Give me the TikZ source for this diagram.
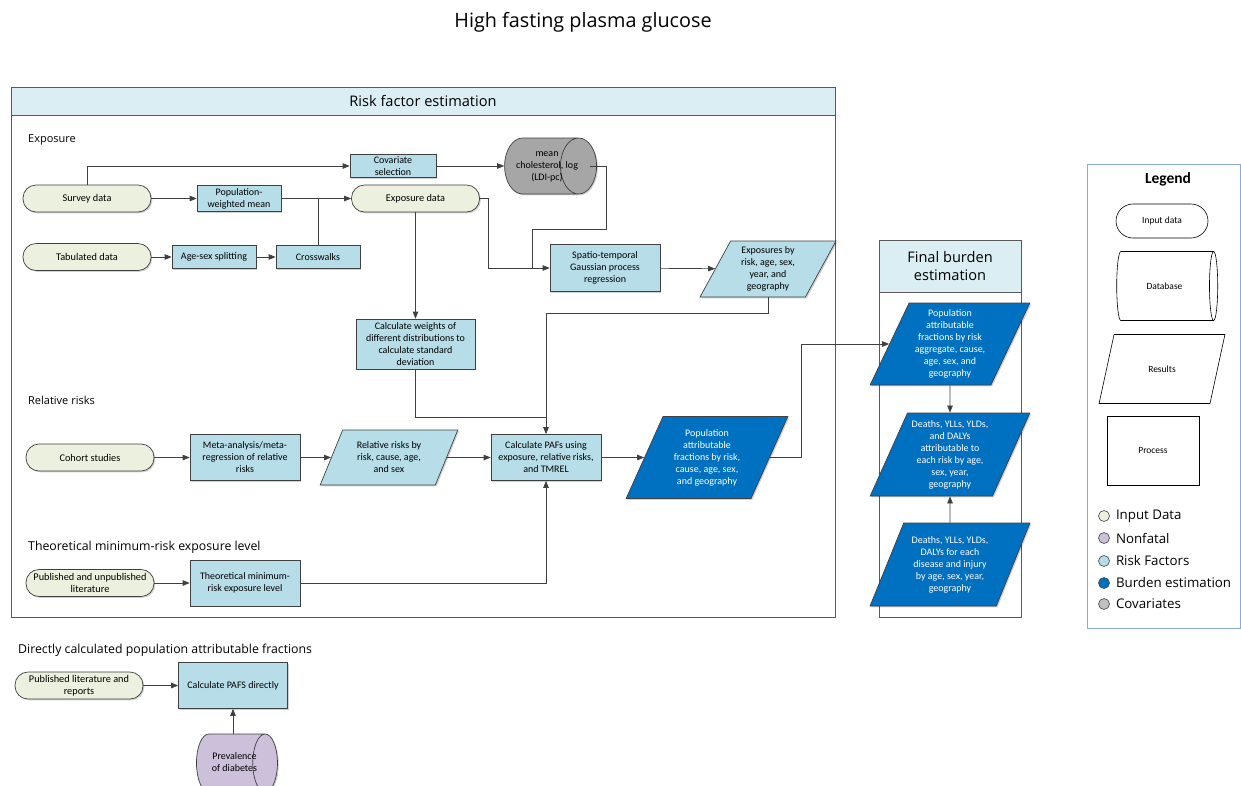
\documentclass[tikz,border=0pt]{standalone}
\usepackage{fontspec}
\setmainfont{Carlito}
\newfontfamily\headfont{Open Sans}
\usepackage{tikz}
\usetikzlibrary{arrows.meta,shapes.geometric,shadows,positioning,calc}

\definecolor{inputgreen}{HTML}{EBF1DE}
\definecolor{riskblue}{HTML}{B7DEE8}
\definecolor{burdenblue}{HTML}{0070C0}
\definecolor{covgray}{HTML}{A6A6A6}
\definecolor{nonfatal}{HTML}{CCC0DA}
\definecolor{headblue}{HTML}{DAEEF3}
\definecolor{linegray}{HTML}{404040}
\definecolor{framegray}{HTML}{595959}
\definecolor{legendblue}{HTML}{8EAADB}

\newcommand{\dbtext}[2]{\makebox[30pt]{\hspace{#1}\begin{tabular}{@{}c@{}}#2\end{tabular}}}

\tikzset{
  shadowed/.style={drop shadow={shadow xshift=1.3pt, shadow yshift=-1.3pt, fill=black, opacity=0.18}},
  base/.style={draw=linegray, line width=0.7pt, align=center, inner sep=1pt, shadowed,
    font=\fontsize{10}{12}\selectfont},
  inputbox/.style={base, fill=inputgreen, rounded corners=13pt,
    minimum width=128pt, minimum height=27pt, font=\fontsize{10.3}{12}\selectfont},
  procbox/.style={base, fill=riskblue},
  resultbox/.style={base, fill=riskblue, trapezium, trapezium left angle=64,
    trapezium right angle=116, trapezium stretches=true},
  burdenbox/.style={resultbox, fill=burdenblue, text=white},
  dbbox/.style={base, cylinder, shape border rotate=0, aspect=0.95},
  legendshape/.style={draw=black, line width=0.6pt, fill=white, align=center,
    inner sep=1pt, font=\fontsize{9.5}{11}\selectfont},
  legdot/.style={circle, draw=linegray, line width=0.6pt, minimum size=11pt, inner sep=0pt},
  legtext/.style={font=\headfont\fontsize{13.3}{15}\selectfont, anchor=west, inner sep=0pt},
  sechead/.style={font=\headfont\fontsize{11}{13}\selectfont, anchor=west, inner sep=0pt},
  bighead/.style={font=\headfont\fontsize{12.3}{14}\selectfont, anchor=west, inner sep=0pt},
  headtext/.style={font=\headfont\fontsize{14.6}{18}\selectfont, align=center},
  frame/.style={draw=framegray, line width=0.8pt},
  line/.style={draw=linegray, line width=0.7pt},
  arr/.style={line, -{Triangle[length=7pt,width=5.5pt]}}
}

\begin{document}
\begin{tikzpicture}[x=1pt,y=1pt]
\useasboundingbox (0,0) rectangle (1241,-785);
\node[font=\headfont\fontsize{19.8}{22}\selectfont] (title) at (583,-22) {High fasting plasma glucose};

% frames
\draw[frame, fill=white] (11,-87) rectangle (835,-617);
\draw[frame, fill=headblue] (11,-87) rectangle (835,-115);
\node[headtext] (rfe) at (423,-101) {Risk factor estimation};
\draw[frame, fill=white] (879,-240) rectangle (1021,-617);
\draw[frame, fill=headblue] (879,-240) rectangle (1021,-292);
\node[headtext] (fbe) at (950,-266) {Final burden\\estimation};
\draw[draw=legendblue, line width=0.8pt] (1087,-164) rectangle (1240.5,-628);

\node[sechead] (hexp) at (28,-140) {Exposure};
\node[sechead] (hrr) at (28,-400) {Relative risks};
\node[bighead] (htm) at (28,-547) {Theoretical minimum-risk exposure level};
\node[bighead] (hdir) at (18,-650) {Directly calculated population attributable fractions};

% exposure
\node[inputbox] (survey) at (87,-198.5) {Survey data};
\node[inputbox] (tab) at (87,-257) {Tabulated data};
\node[procbox, minimum width=84pt, minimum height=26pt] (popmean) at (239,-198.5) {Population-\\weighted mean};
\node[procbox, minimum width=84pt, minimum height=23pt] (agesex) at (214,-257) {Age-sex splitting};
\node[procbox, minimum width=84pt, minimum height=23pt] (cross) at (318,-257) {Crosswalks};
\node[procbox, minimum width=86pt, minimum height=23pt] (covsel) at (393,-166) {Covariate\\selection};
\node[inputbox] (expdata) at (415.5,-198.5) {Exposure data};
\node[dbbox, fill=covgray, minimum height=92pt, minimum width=56pt] (chol) at (539,-166) {\dbtext{16pt}{mean\\cholesterol, log\\(LDI-pc)}};
\node[procbox, minimum width=110pt, minimum height=47pt] (spatio) at (605,-268) {Spatio-temporal\\Gaussian process\\regression};
\node[resultbox, minimum width=136pt, minimum height=56pt] (expby) at (768,-269) {Exposures by\\risk, age, sex,\\year, and\\geography};
\node[procbox, minimum width=119pt, minimum height=50pt] (calcw) at (415.5,-344) {Calculate weights of\\different distributions to\\calculate standard\\deviation};

% relative risks
\node[inputbox] (cohort) at (90,-457.5) {Cohort studies};
\node[procbox, minimum width=110pt, minimum height=46pt] (meta) at (245,-457.5) {Meta-analysis/meta-\\regression of relative\\risks};
\node[resultbox, minimum width=138pt, minimum height=55pt] (relrisk) at (389,-457.5) {Relative risks by\\risk, cause, age,\\and sex};
\node[procbox, minimum width=110pt, minimum height=46pt] (calcpaf) at (546,-457.5) {Calculate PAFs using\\exposure, relative risks,\\and TMREL};
\node[burdenbox, minimum width=162pt, minimum height=82pt] (pafres) at (707,-457.5) {Population\\attributable\\fractions by risk,\\cause, age, sex,\\and geography};

% tmrel
\node[inputbox] (pubunpub) at (90,-583) {Published and unpublished\\literature};
\node[procbox, minimum width=110pt, minimum height=46pt] (tmrel) at (245,-583) {Theoretical minimum-\\risk exposure level};

% final burden
\node[burdenbox, minimum width=160pt, minimum height=82pt] (fpaf) at (950,-344) {Population\\attributable\\fractions by risk\\aggregate, cause,\\age, sex, and\\geography};
\node[burdenbox, minimum width=160pt, minimum height=83pt] (fdeath) at (950,-454.5) {Deaths, YLLs, YLDs,\\and DALYs\\attributable to\\each risk by age,\\sex, year,\\geography};
\node[burdenbox, minimum width=160pt, minimum height=83pt] (fdis) at (950,-564.5) {Deaths, YLLs, YLDs,\\DALYs for each\\disease and injury\\by age, sex, year,\\geography};

% direct pafs
\node[inputbox] (publit) at (79,-685.5) {Published literature and\\reports};
\node[procbox, minimum width=109pt, minimum height=46pt] (pafdir) at (233,-685.5) {Calculate PAFS directly};
\node[dbbox, fill=nonfatal, minimum height=81pt, minimum width=58pt] (prev) at (229,-763) {\dbtext{11pt}{Prevalence\\of diabetes}};

% legend
\node[font=\bfseries\fontsize{15.5}{18}\selectfont] (legtitle) at (1168,-179) {Legend};
\node[legendshape, rounded corners=17pt, minimum width=92pt, minimum height=34pt] (lginput) at (1162,-221) {Input data};
\node[legendshape, cylinder, shape border rotate=0, aspect=0.95, minimum height=101pt, minimum width=69pt] (lgdb) at (1164.5,-286) {Database};
\node[legendshape, trapezium, trapezium left angle=62, trapezium right angle=118, trapezium stretches=true, minimum width=126pt, minimum height=69pt] (lgres) at (1162,-369) {Results};
\node[legendshape, minimum width=92pt, minimum height=69pt] (lgproc) at (1153,-450.5) {Process};
\node[legdot, fill=inputgreen] (dot1) at (1104,-516) {};
\node[legdot, fill=nonfatal] (dot2) at (1104,-538) {};
\node[legdot, fill=riskblue] (dot3) at (1104,-561) {};
\node[legdot, fill=burdenblue] (dot4) at (1104,-583) {};
\node[legdot, fill=covgray!70] (dot5) at (1104,-604) {};
\node[legtext, right=6pt of dot1] (lt1) {Input Data};
\node[legtext, right=6pt of dot2] (lt2) {Nonfatal};
\node[legtext, right=6pt of dot3] (lt3) {Risk Factors};
\node[legtext, right=6pt of dot4] (lt4) {Burden estimation};
\node[legtext, right=6pt of dot5] (lt5) {Covariates};

% connectors
\coordinate (cbend) at (606,-229);
\draw[arr] (survey.north) |- (covsel.west);
\draw[arr] (survey) -- (popmean);
\draw[arr] (popmean) -- (expdata);
\draw[line] (cross.north) -- (cross.north |- popmean.east);
\draw[arr] (tab) -- (agesex);
\draw[arr] (agesex) -- (cross);
\draw[arr] (covsel) -- (chol);
\draw[line] ([xshift=-7pt]chol.east) -| (cbend) -| ([xshift=-17pt]spatio.west);
\draw[arr] (expdata.east) -- ++(8,0) |- (spatio.west);
\draw[arr] (expdata.south) -- (calcw.north);
\draw[arr] (spatio) -- (expby);
\draw[arr] (expby.south) -- ++(0,-16) -| (calcpaf.north);
\draw[line] (calcw.south) |- ([yshift=17pt]calcpaf.north);
\draw[arr] (cohort) -- (meta);
\draw[arr] (meta) -- (relrisk);
\draw[arr] (relrisk) -- (calcpaf);
\draw[arr] (calcpaf) -- (pafres);
\draw[arr] (pubunpub) -- (tmrel);
\draw[arr] (tmrel.east) -| (calcpaf.south);
\draw[arr] (pafres.east) -- ++(32,0) |- (fpaf.west);
\draw[arr] (fpaf) -- (fdeath);
\draw[arr] (fdis) -- (fdeath);
\draw[arr] (publit) -- (pafdir);
\draw[arr] (prev.north -| pafdir.south) -- (pafdir.south);
\end{tikzpicture}
\end{document}
